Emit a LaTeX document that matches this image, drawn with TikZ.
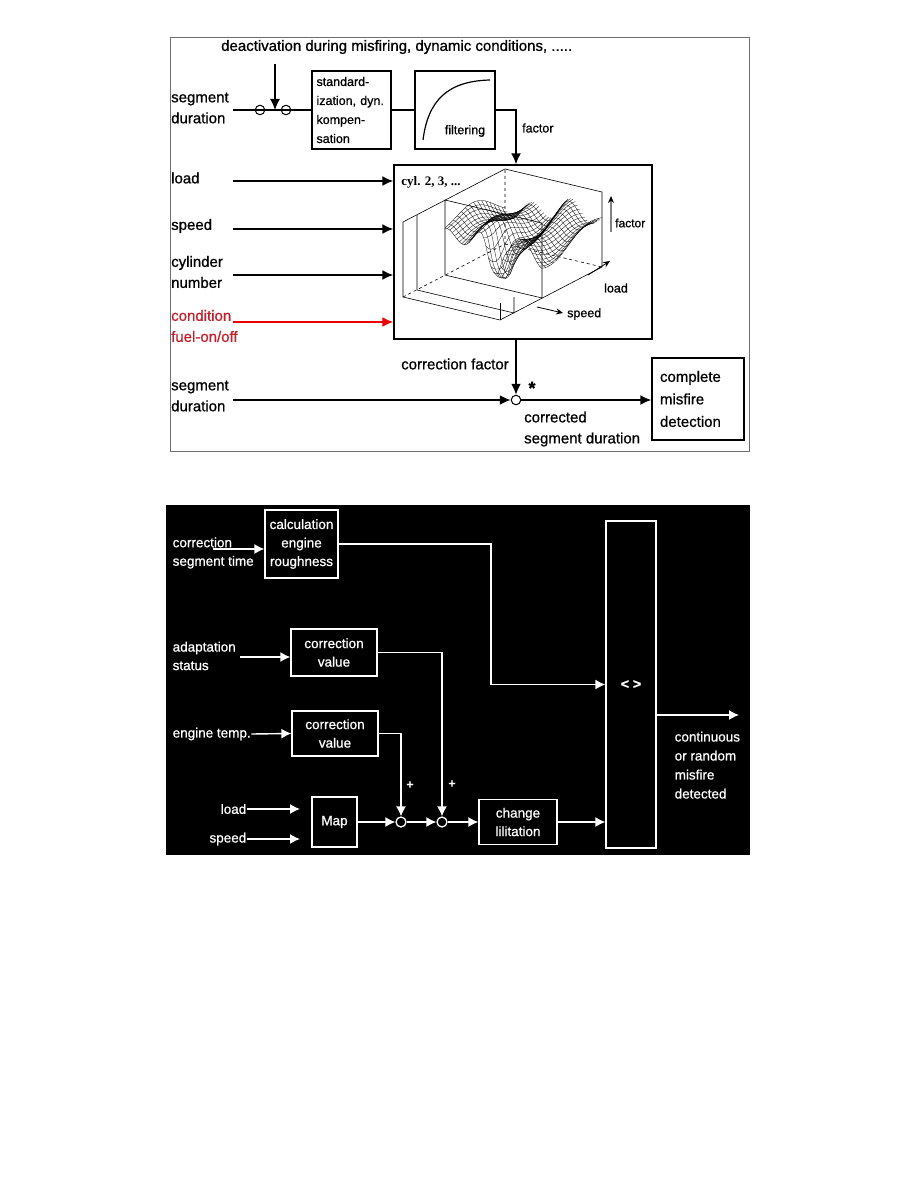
\documentclass[tikz,border=0pt]{standalone}
\usepackage{fontspec}
\setmainfont{Liberation Sans}[FakeBold=0.8]
\newfontfamily\cylfont{Liberation Serif}
\usetikzlibrary{positioning,arrows.meta,calc}
\definecolor{condred}{RGB}{196,32,44}
\definecolor{arrred}{RGB}{236,0,0}
\definecolor{framegray}{RGB}{110,110,110}

\tikzset{
  lbl/.style={anchor=west,align=left,inner sep=0pt,font=\fontsize{15}{21}\selectfont},
  blk/.style={draw,line width=1.3pt,inner sep=0pt},
  sml/.style={font=\fontsize{12.5}{19}\selectfont},
  sumpt/.style={circle,draw,line width=1pt,minimum size=9.5pt,inner sep=0pt},
  wlbl/.style={anchor=west,align=left,inner sep=0pt,font=\fontsize{13.5}{18.5}\selectfont},
  wblk/.style={draw,line width=1.3pt,align=center,inner sep=0pt,font=\fontsize{13.5}{18.5}\selectfont},
  wsum/.style={circle,draw,line width=1.3pt,minimum size=10pt,inner sep=0pt},
  mesh/.style={line width=0.3pt},
  axarr/.style={-{Stealth[length=7pt,width=6pt]},line width=0.8pt},
}

\begin{document}
\begin{tikzpicture}[>={Latex[length=11pt,width=10pt]},x=1pt,y=-1pt,
  declare function={zf(\ss,\ll)=0.6+0.12*sin(900*\ss+200*\ll)+0.1*cos(500*\ll+300*\ss)-0.55/(1+(((\ss-0.5)/0.09)^2+((\ll-0.47)/0.12)^2)^2);}]
  \useasboundingbox (0,0) rectangle (918,1188);

  % ---- upper diagram
  \draw[framegray,line width=0.8pt] (170,37) rectangle (749,451);
  \node[lbl] (deact) at (221,47) {deactivation during misfiring, dynamic conditions, .....};
  \node[lbl] (segdur) at (171,108) {segment\\duration};
  \node[blk,sml,minimum width=79pt,minimum height=78pt,text width=70pt,align=left] (stdz) at (351.5,110) {standard-\\ization, dyn.\\kompen-\\sation};
  \node[blk,minimum width=80pt,minimum height=78pt] (filt) at (455,110) {};
  \node[sml,inner sep=0pt] (filtxt) at (465,131) {filtering};
  \draw[line width=1.2pt] (423,140) .. controls (428,100) and (448,81) .. (490,80);

  \coordinate (sd0) at (233,110);
  \draw[line width=1.8pt] (sd0) -- (stdz.west);
  \node[sumpt] (sw1) at (260,110) {};
  \node[sumpt] (sw2) at (286,110) {};
  \coordinate (swtop) at (275,64);
  \draw[->,line width=1.3pt] (swtop) -- (swtop |- sd0);
  \draw[line width=1.8pt] (stdz.east) -- (filt.west);

  \node[blk,minimum width=258pt,minimum height=174pt] (map) at (523,252) {};
  \draw[->,line width=1.8pt] (filt.east) -| ([xshift=-7pt]map.north);
  \node[sml,anchor=west,inner sep=0pt] (facl) at (522,128) {factor};

  % map picture
  \begin{scope}[line width=0.6pt]
    \draw (403,297) -- (403,222) -- (505,169) -- (602,192) -- (602,267) -- (500,320) -- cycle;
    \draw (500,320) -- (500,303);
    \draw (417,215) -- (417,290) -- (514,313) -- (514,297);
    \draw (445,200) -- (542,223) -- (542,298) -- (445,275) -- cycle;
    \draw[dashed] (403,297) -- (505,244) -- (505,169);
    \draw[dashed] (505,244) -- (602,267);
    \foreach \lv in {0.41,0.45,...,1.0}
      \draw[mesh] plot[domain=0:1,samples=45] ({403+97*\x+102*\lv},{297+23*\x-53*\lv-75*zf(\x,\lv)});
    \foreach \sv in {0,0.025,...,1.0}
      \draw[mesh] plot[domain=0.41:1,samples=25] ({403+97*\sv+102*\x},{297+23*\sv-53*\x-75*zf(\sv,\x)});
  \end{scope}
  \node[inner sep=0pt,font=\cylfont\bfseries\fontsize{13}{13}\selectfont] (cyl) at (431,182) {cyl. 2, 3, ...};
  \coordinate (fa0) at (611,232); \coordinate (fa1) at (611,196);
  \draw[-{Stealth[length=7pt,width=6pt,black]},gray,line width=1.2pt] (fa0) -- (fa1);
  \node[inner sep=0pt,anchor=west,font=\fontsize{12}{12}\selectfont] (pfac) at (615,223) {factor};
  \coordinate (la0) at (588,275); \coordinate (la1) at (610,261);
  \draw[axarr] (la0) -- (la1);
  \node[inner sep=0pt,anchor=west,font=\fontsize{12.5}{12}\selectfont] (plod) at (604,288) {load};
  \coordinate (sp0) at (537,307); \coordinate (sp1) at (563,313);
  \draw[axarr] (sp0) -- (sp1);
  \node[inner sep=0pt,anchor=west,font=\fontsize{12.5}{12}\selectfont] (pspd) at (567,314) {speed};

  % inputs
  \foreach \yy/\nm in {181/a,229/b,275/c}{
    \coordinate (in\nm) at (233,\yy);
    \draw[->,line width=1.8pt] (in\nm) -- (in\nm -| map.west);
  }
  \coordinate (ind) at (233,322);
  \draw[->,arrred,line width=1.8pt] (ind) -- (ind -| map.west);
  \node[lbl] (lload) at (171,178) {load};
  \node[lbl] (lspeed) at (171,226) {speed};
  \node[lbl] (lcyl) at (171,272) {cylinder\\number};
  \node[lbl,text=condred] (lcond) at (171,326) {condition\\fuel-on/off};
  \node[lbl] (lseg2) at (171,396) {segment\\duration};

  % correction
  \node[sumpt] (sum) at (516,400) {};
  \draw[->,line width=1.8pt] ([xshift=-7pt]map.south) -- (sum.north);
  \node[lbl] (corrf) at (401,364) {correction factor};
  \node[inner sep=0pt,font=\bfseries\fontsize{18}{18}\selectfont] (star) at (532,388) {*};
  \coordinate (ine) at (233,400);
  \draw[->,line width=1.8pt] (ine) -- (sum.west);
  \node[blk,minimum width=92pt,minimum height=82pt,text width=76pt,align=left,font=\fontsize{15}{22.5}\selectfont] (cmd) at (698,399) {complete\\misfire\\detection};
  \draw[->,line width=1.8pt] (sum.east) -- (sum.east -| cmd.west);
  \node[lbl] (corseg) at (524,429) {corrected\\segment duration};

  % ---- lower diagram
  \fill (166,505) rectangle (750,855);
  \begin{scope}[white,line width=1.4pt,>={Latex[length=10pt,width=10pt]}]
    \node[wlbl] (lcst) at (172,553) {correction\\segment time};
    \node[wblk,minimum width=73pt,minimum height=68pt] (rough) at (301.5,544) {calculation\\engine\\roughness};
    \coordinate (cst) at (213,549);
    \draw[->] (cst) -- (cst -| rough.west);

    \node[wlbl] (ladpt) at (172,656) {adaptation\\status};
    \node[wblk,minimum width=86pt,minimum height=47pt] (cv1) at (334,652.5) {correction\\value};
    \coordinate (adp) at (240,657);
    \draw[->] (adp) -- (adp -| cv1.west);

    \node[wlbl] (ltemp) at (172,734) {engine temp.};
    \node[wblk,minimum width=86pt,minimum height=45pt] (cv2) at (335,733.5) {correction\\value};
    \draw[->] (ltemp.east) -- (cv2.west);

    \node[wlbl,anchor=east] (lld) at (247,809) {load};
    \node[wlbl,anchor=east] (lsp) at (247,839) {speed};
    \coordinate (ldE) at (300,809); \coordinate (spE) at (300,839);
    \draw[->] (lld.east) -- (ldE);
    \draw[->] (lsp.east) -- (spE);
    \node[wblk,minimum width=45pt,minimum height=50pt] (mapb) at (334.5,822) {Map};

    \node[wsum] (s1) at (401,822) {};
    \node[wsum] (s2) at (442,822) {};
    \node[font=\bfseries\fontsize{12}{12}\selectfont,inner sep=0pt] (pl1) at (410,785) {+};
    \node[font=\bfseries\fontsize{12}{12}\selectfont,inner sep=0pt] (pl2) at (452,784) {+};
    \node[wblk,minimum width=78pt,minimum height=45pt] (chg) at (518,822) {change\\lilitation};
    \node[wblk,minimum width=50pt,minimum height=327pt,font=\bfseries\fontsize{14}{16}\selectfont] (cmp) at (631,684.5) {< >};

    \draw[->] (mapb) -- (s1);
    \draw[->] (s1) -- (s2);
    \draw[->] (s2) -- (chg);
    \draw[->] (chg) -- (chg -| cmp.west);
    \draw[->] (cv1.east) -| (s2.north);
    \draw[->] (cv2.east) -| (s1.north);
    \coordinate (bend) at (491,684.5);
    \draw[->] (rough.east) -| (bend) -- (bend -| cmp.west);
    \coordinate (outE) at (739,715);
    \draw[->] (outE -| cmp.east) -- (outE);
    \node[wlbl,anchor=north west,font=\fontsize{13.5}{19}\selectfont] (lout) at (674,731) {continuous\\or random\\misfire\\detected};
  \end{scope}
\end{tikzpicture}
\end{document}
